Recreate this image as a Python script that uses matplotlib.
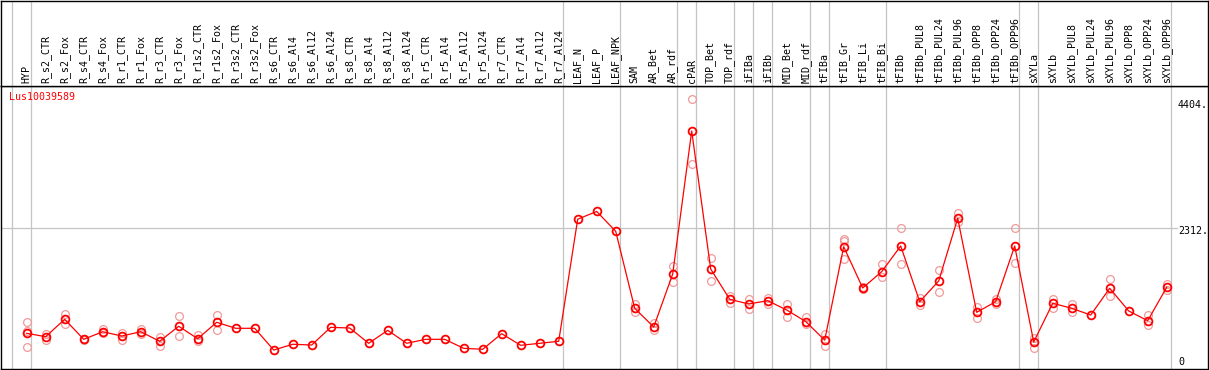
import numpy as np
import matplotlib
matplotlib.use("Agg")
import matplotlib.pyplot as plt
import matplotlib.transforms as mtransforms

# ---------------- data ----------------
gene_id = "Lus10039589"
categories = ["HYP", "R_s2_CTR", "R_s2_Fox", "R_s4_CTR", "R_s4_Fox", "R_r1_CTR", "R_r1_Fox",
              "R_r3_CTR", "R_r3_Fox", "R_r1s2_CTR", "R_r1s2_Fox", "R_r3s2_CTR", "R_r3s2_Fox",
              "R_s6_CTR", "R_s6_Al4", "R_s6_Al12", "R_s6_Al24", "R_s8_CTR", "R_s8_Al4",
              "R_s8_Al12", "R_s8_Al24", "R_r5_CTR", "R_r5_Al4", "R_r5_Al12", "R_r5_Al24",
              "R_r7_CTR", "R_r7_Al4", "R_r7_Al12", "R_r7_Al24", "LEAF_N", "LEAF_P", "LEAF_NPK",
              "SAM", "AR_Bet", "AR_rdf", "cPAR", "TOP_Bet", "TOP_rdf", "iFIBa", "iFIBb",
              "MID_Bet", "MID_rdf", "tFIBa", "tFIB_Gr", "tFIB_Li", "tFIB_Bi", "tFIBb",
              "tFIBb_PUL8", "tFIBb_PUL24", "tFIBb_PUL96", "tFIBb_OPP8", "tFIBb_OPP24",
              "tFIBb_OPP96", "sXYLa", "sXYLb", "sXYLb_PUL8", "sXYLb_PUL24", "sXYLb_PUL96",
              "sXYLb_OPP8", "sXYLb_OPP24", "sXYLb_OPP96"]

mean_values = [583, 528, 812, 485, 609, 539, 609, 453, 698, 495, 763, 665, 665,
               310, 404, 392, 681, 670, 420, 632, 420, 485, 485, 338, 322, 577, 387, 420, 453,
               2448, 2574, 2250, 992, 686, 1552, 3889, 1634, 1139, 1062, 1116, 964, 776, 471,
               1998, 1324, 1590, 2010, 1100, 1438, 2462, 926, 1100, 2010,
               441, 1074, 992, 882, 1319, 948, 789, 1335]

# replicate values (only those visible apart from the mean marker)
replicates = {
    "HYP": [763, 626, 355], "R_s2_CTR": [572, 474], "R_s2_Fox": [899, 735],
    "R_s4_CTR": [495, 475], "R_s4_Fox": [654, 588], "R_r1_CTR": [593, 474],
    "R_r1_Fox": [654, 572], "R_r3_CTR": [518, 376], "R_r3_Fox": [861, 534],
    "R_r1s2_CTR": [560, 453], "R_r1s2_Fox": [877, 642],
    "SAM": [1062, 936], "AR_Bet": [747, 637], "AR_rdf": [1683, 1422],
    "cPAR": [4404, 3345], "TOP_Bet": [1814, 1438], "TOP_rdf": [1193, 1083],
    "iFIBa": [1144, 985], "iFIBb": [1155, 1062], "MID_Bet": [1057, 855],
    "MID_rdf": [845, 730], "tFIBa": [567, 381], "tFIB_Gr": [2125, 2095, 1792],
    "tFIB_Li": [1335, 1310], "tFIB_Bi": [1716, 1508], "tFIBb": [2299, 1716],
    "tFIBb_PUL8": [1155, 1046], "tFIBb_PUL24": [1618, 1258], "tFIBb_PUL96": [2544, 2397],
    "tFIBb_OPP8": [1008, 838], "tFIBb_OPP24": [1144, 1057], "tFIBb_OPP96": [2299, 1727],
    "sXYLa": [502, 348], "sXYLb": [1144, 992], "sXYLb_PUL8": [1057, 936],
    "sXYLb_PUL96": [1471, 1188], "sXYLb_OPP24": [882, 719], "sXYLb_OPP96": [1389, 1291],
}

group_sizes = [1, 28, 3, 3, 1, 2, 1, 1, 2, 1, 3, 7, 1, 7]
y_max = 4624
mid_tick = 2312
max_label = "4404."
mid_label = "2312."
zero_label = "0"

# ---------------- figure ----------------
W, H = 1209, 370
fig = plt.figure(figsize=(W / 100, H / 100), dpi=100)
mono = "DejaVu Sans Mono"
fs = 7.2

left_px, right_px = 1, 1208
plot_top_px, plot_bot_px = 86, 369
ax = fig.add_axes([left_px / W, (H - plot_bot_px) / H, (right_px - left_px) / W,
                   (plot_bot_px - plot_top_px) / H])
axh = fig.add_axes([left_px / W, (H - plot_top_px) / H, (right_px - left_px) / W,
                    (plot_top_px - 0.5) / H], sharex=ax)

n = len(categories)
x = np.arange(n)
step_px = 19.0
first_px = 26.7
xmin = (left_px - first_px) / step_px
xmax = (right_px - first_px) / step_px
ax.set_xlim(xmin, xmax)
ax.set_ylim(0, y_max)
axh.set_ylim(0, 1)

for a in (ax, axh):
    a.set_xticks([])
    a.set_yticks([])
    for s in a.spines.values():
        s.set_color("black")
        s.set_linewidth(1.0)

grid_c = "#c4c4c4"
bounds = np.concatenate([[0], np.cumsum(group_sizes)]) - 1 + 0.2
for b in bounds:
    ax.axvline(b, color=grid_c, lw=0.9, zorder=1)
    axh.axvline(b, color=grid_c, lw=0.9, zorder=1)

# horizontal grid line at mid value (stops before tick label)
ax.plot([0, (1177 - left_px) / (right_px - left_px)], [mid_tick, mid_tick],
        transform=mtransforms.blended_transform_factory(ax.transAxes, ax.transData),
        color=grid_c, lw=0.9, zorder=1)

# replicates
for i, c in enumerate(categories):
    if c in replicates:
        vals = replicates[c]
        ax.plot([i] * len(vals), vals, linestyle="none", marker="o", ms=5.6,
                mfc="none", mec="#f09a9a", mew=0.9, zorder=2)

ax.plot(x, mean_values, color="#ff0000", lw=0.9, zorder=3)
ax.plot(x, mean_values, linestyle="none", marker="o", ms=5.6, mfc="none",
        mec="#ff0000", mew=1.3, zorder=4)

# header labels
trans_h = mtransforms.blended_transform_factory(axh.transData, axh.transAxes)
for i, c in enumerate(categories):
    axh.text(i, 3 / 86, c, rotation=90, ha="center", va="bottom",
             family=mono, fontsize=fs, transform=trans_h)

ax.text(8 / 1207, 0.962, gene_id, color="#ff0000", family=mono, fontsize=fs,
        ha="left", va="center", transform=ax.transAxes)

lab_x = (1178 - left_px) / (right_px - left_px)
tr = mtransforms.blended_transform_factory(ax.transAxes, ax.transData)
ax.text(lab_x, 4404, max_label, family=mono, fontsize=fs, ha="left", va="top",
        transform=tr + mtransforms.ScaledTranslation(0, -1 / 100, fig.dpi_scale_trans))
ax.text(lab_x, mid_tick, mid_label, family=mono, fontsize=fs, ha="left", va="top",
        transform=tr + mtransforms.ScaledTranslation(0, 1 / 100, fig.dpi_scale_trans))
ax.text(lab_x, 0, zero_label, family=mono, fontsize=fs, ha="left", va="bottom",
        transform=tr + mtransforms.ScaledTranslation(0, 2 / 100, fig.dpi_scale_trans))

fig.savefig("out.png", dpi=100)
